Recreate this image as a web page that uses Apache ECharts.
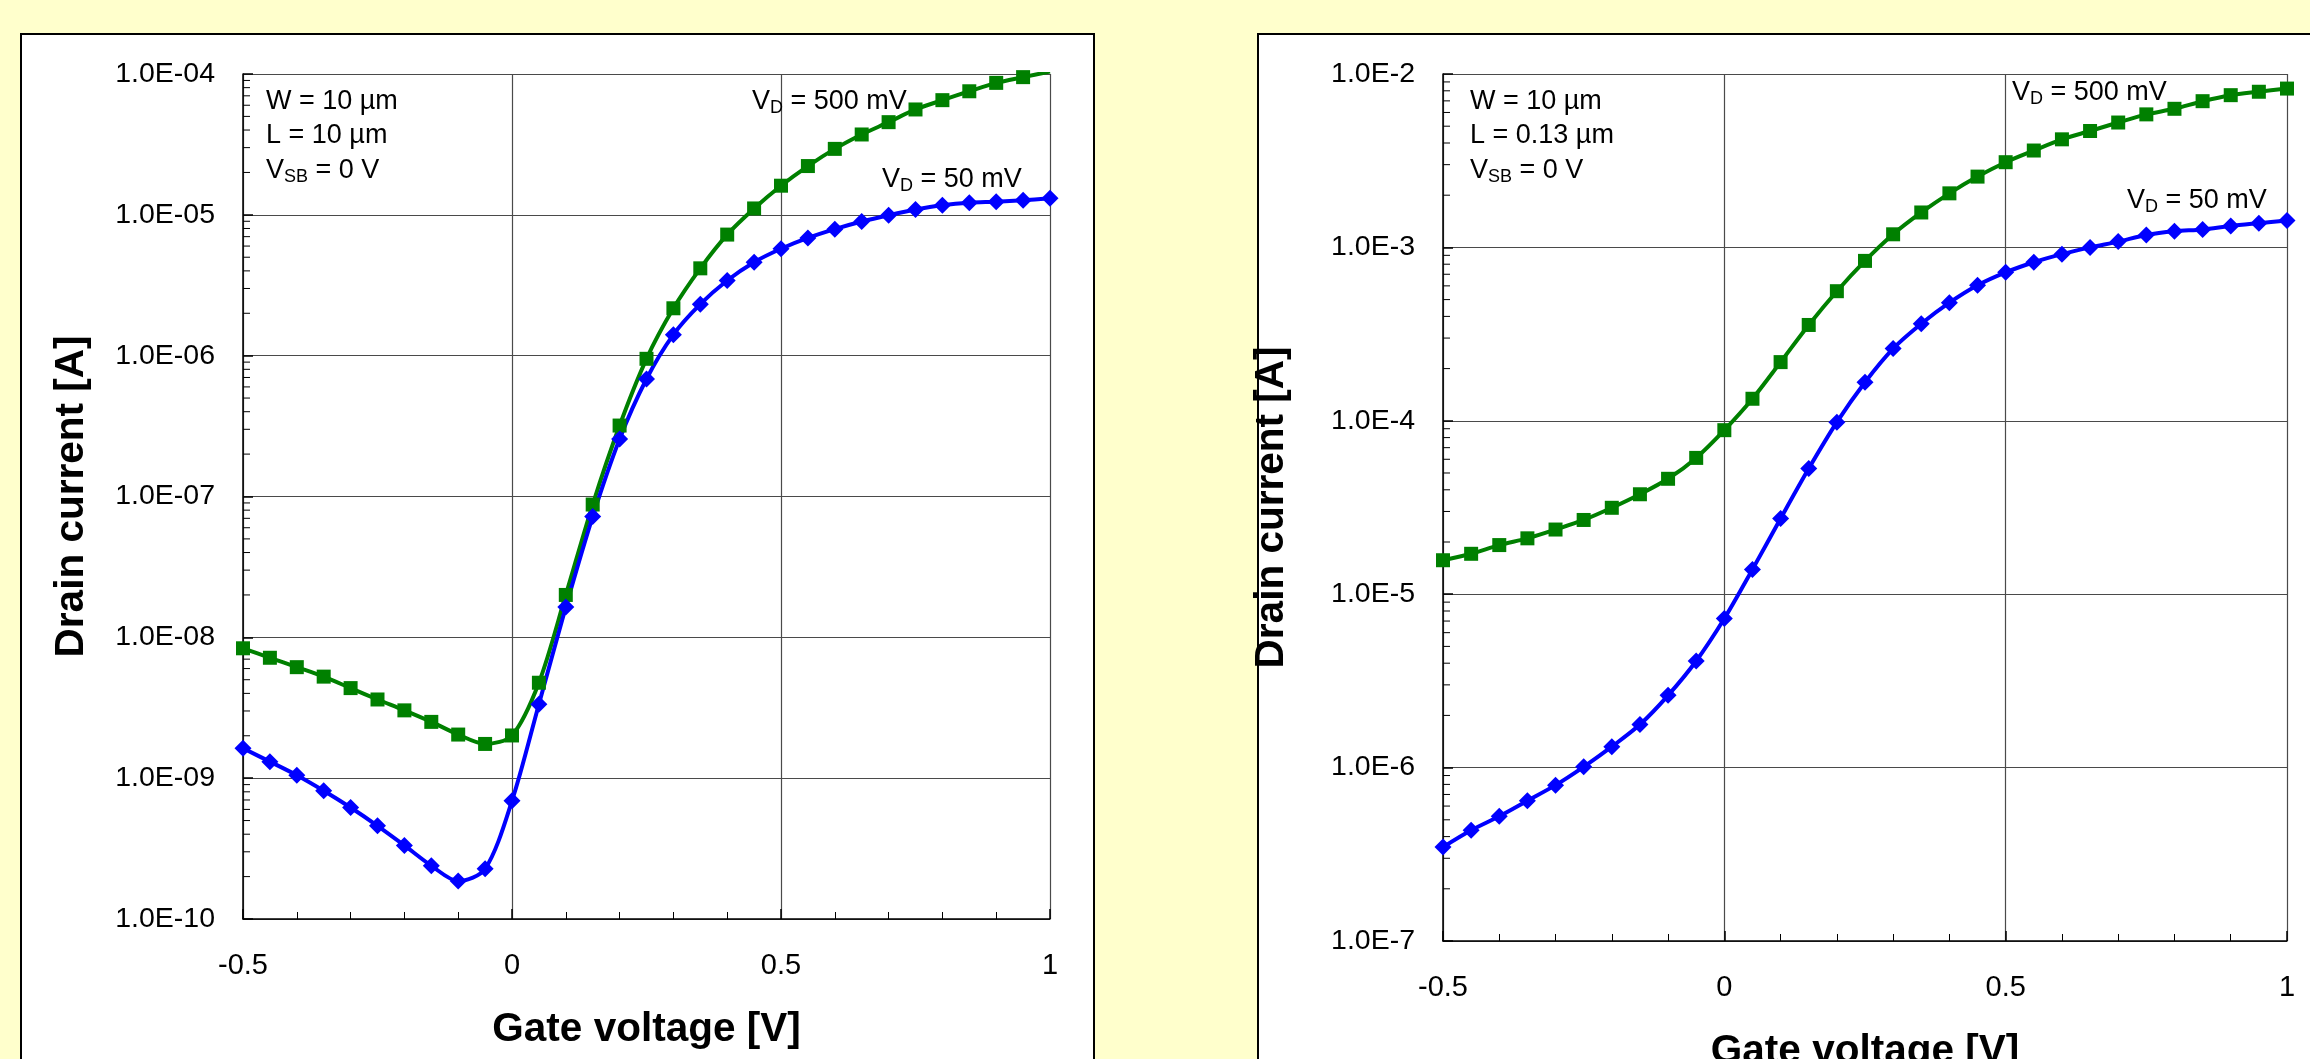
<!DOCTYPE html>
<html>
<head>
<meta charset="utf-8">
<script src="https://cdn.jsdelivr.net/npm/echarts@6/dist/echarts.min.js"></script>
<style>
  html, body { margin: 0; padding: 0; background: #FFFFCC; }
  #chart { width: 2310px; height: 1059px; }
</style>
</head>
<body>
<div id="chart"></div>
<script>
// gate voltage sweep, same for both devices
const gateVoltage = [-0.5, -0.45, -0.4, -0.35, -0.3, -0.25, -0.2, -0.15, -0.1, -0.05, 0,
  0.05, 0.1, 0.15, 0.2, 0.25, 0.3, 0.35, 0.4, 0.45, 0.5, 0.55, 0.6, 0.65, 0.7, 0.75, 0.8,
  0.85, 0.9, 0.95, 1];

// left chart: W = 10um, L = 10um
const longVd500 = [8.36e-9, 7.16e-9, 6.14e-9, 5.26e-9, 4.36e-9, 3.62e-9, 3.03e-9, 2.51e-9, 2.04e-9,
  1.75e-9, 2.01e-9, 4.76e-9, 2.0e-8, 8.77e-8, 3.19e-7, 9.5e-7, 2.17e-6, 4.17e-6, 7.24e-6, 1.11e-5,
  1.61e-5, 2.22e-5, 2.94e-5, 3.72e-5, 4.55e-5, 5.6e-5, 6.52e-5, 7.54e-5, 8.65e-5, 9.5e-5, 1.04e-4];
const longVd50 = [1.63e-9, 1.31e-9, 1.05e-9, 8.15e-10, 6.19e-10, 4.59e-10, 3.33e-10, 2.39e-10, 1.86e-10,
  2.27e-10, 6.9e-10, 3.35e-9, 1.64e-8, 7.2e-8, 2.56e-7, 6.83e-7, 1.41e-6, 2.32e-6, 3.42e-6, 4.61e-6,
  5.74e-6, 6.85e-6, 7.91e-6, 8.96e-6, 9.93e-6, 1.09e-5, 1.17e-5, 1.22e-5, 1.24e-5, 1.27e-5, 1.31e-5];

// right chart: W = 10um, L = 0.13um
const shortVd500 = [1.57e-5, 1.71e-5, 1.92e-5, 2.10e-5, 2.36e-5, 2.68e-5, 3.15e-5, 3.77e-5, 4.63e-5,
  6.11e-5, 8.83e-5, 1.34e-4, 2.18e-4, 3.57e-4, 5.59e-4, 8.36e-4, 1.19e-3, 1.59e-3, 2.05e-3, 2.56e-3,
  3.10e-3, 3.62e-3, 4.20e-3, 4.69e-3, 5.25e-3, 5.85e-3, 6.3e-3, 6.97e-3, 7.55e-3, 7.9e-3, 8.24e-3];
const shortVd50 = [3.48e-7, 4.35e-7, 5.24e-7, 6.44e-7, 7.92e-7, 1.01e-6, 1.32e-6, 1.77e-6, 2.61e-6,
  4.12e-6, 7.24e-6, 1.39e-5, 2.73e-5, 5.30e-5, 9.82e-5, 1.67e-4, 2.61e-4, 3.63e-4, 4.80e-4, 6.05e-4,
  7.18e-4, 8.21e-4, 9.14e-4, 1.0e-3, 1.08e-3, 1.18e-3, 1.24e-3, 1.27e-3, 1.33e-3, 1.38e-3, 1.43e-3];

// y tick labels
const longYTicks = [1e-10, 1e-9, 1e-8, 1e-7, 1e-6, 1e-5, 1e-4];
const longYLabels = ['1.0E-10', '1.0E-09', '1.0E-08', '1.0E-07', '1.0E-06', '1.0E-05', '1.0E-04'];
const shortYTicks = [1e-7, 1e-6, 1e-5, 1e-4, 1e-3, 1e-2];
const shortYLabels = ['1.0E-7', '1.0E-6', '1.0E-5', '1.0E-4', '1.0E-3', '1.0E-2'];
// minor log ticks inside each decade
const minorSteps = [2, 3, 4, 5, 6, 7, 8, 9];

const FONT = '"Liberation Sans", Arial, sans-serif';
const GRID_COLOR = '#4a4a4a';

function pick(ticks, labels) {
  return function (v) {
    const i = ticks.findIndex(t => Math.abs(Math.log10(t / v)) < 1e-6);
    return i < 0 ? '' : labels[i];
  };
}

function minorData(ticks) {
  const out = [];
  ticks.slice(0, -1).forEach(d => minorSteps.forEach(m => out.push([-0.5, d * m])));
  return out;
}

function xAxisFor(gridIndex) {
  return {
    type: 'value', gridIndex: gridIndex, min: -0.5, max: 1, interval: 0.5,
    name: 'Gate voltage [V]', nameLocation: 'middle', nameGap: 90,
    nameTextStyle: { fontFamily: FONT, fontSize: 40.5, fontWeight: 'bold', color: '#000' },
    axisLine: { onZero: false, lineStyle: { color: '#000', width: 1.5 } },
    axisTick: { inside: true, length: 10, lineStyle: { color: '#000', width: 1.5 } },
    minorTick: { show: true, splitNumber: 5, length: 7, lineStyle: { color: '#000', width: 1 } },
    axisLabel: { fontFamily: FONT, fontSize: 29, color: '#000', margin: 32 },
    splitLine: { show: true, lineStyle: { color: GRID_COLOR, width: 1.2 } }
  };
}

function yAxisFor(gridIndex, ticks, labels) {
  return {
    type: 'log', logBase: 10, gridIndex: gridIndex,
    min: ticks[0], max: ticks[ticks.length - 1],
    name: 'Drain current [A]', nameLocation: 'middle', nameGap: 151,
    nameTextStyle: { fontFamily: FONT, fontSize: 40.5, fontWeight: 'bold', color: '#000' },
    axisLine: { show: true, onZero: false, lineStyle: { color: '#000', width: 1.5 } },
    axisTick: { show: true, inside: true, length: 10, lineStyle: { color: '#000', width: 1.5 } },
    axisLabel: { fontFamily: FONT, fontSize: 28.5, color: '#000', margin: 28, formatter: pick(ticks, labels) },
    splitLine: { show: true, lineStyle: { color: GRID_COLOR, width: 1.2 } }
  };
}

function pairs(ys) {
  return gateVoltage.map((x, i) => [x, ys[i]]);
}

function curve(name, ys, idx, color, symbol, size) {
  return {
    name: name, type: 'line', xAxisIndex: idx, yAxisIndex: idx,
    data: pairs(ys), smooth: 0.3, symbol: symbol, symbolSize: size,
    lineStyle: { color: color, width: 4 },
    itemStyle: { color: color },
    z: 3, animation: false
  };
}

function minorTicks(idx, ticks) {
  return {
    type: 'custom', xAxisIndex: idx, yAxisIndex: idx, silent: true, clip: false,
    data: minorData(ticks),
    renderItem: function (params, api) {
      const p = api.coord([api.value(0), api.value(1)]);
      return {
        type: 'line',
        shape: { x1: p[0], y1: p[1], x2: p[0] + 7, y2: p[1] },
        style: { stroke: '#000', lineWidth: 1 }
      };
    },
    animation: false
  };
}

const subRich = {
  sub: { fontFamily: FONT, fontSize: 18, lineHeight: 15, verticalAlign: 'bottom', fill: '#000' }
};

function note(x, y, text) {
  return {
    type: 'text', x: x, y: y, z: 10,
    style: {
      text: text, fontFamily: FONT, fontSize: 27, lineHeight: 30,
      fill: '#000', verticalAlign: 'middle', rich: subRich
    }
  };
}

const chart = echarts.init(document.getElementById('chart'));

chart.setOption({
  backgroundColor: '#FFFFCC',
  animation: false,
  grid: [
    { left: 243, top: 74, width: 807, height: 845, outerBoundsMode: 'none', containLabel: false },
    { left: 1443, top: 74, width: 844, height: 867, outerBoundsMode: 'none', containLabel: false }
  ],
  xAxis: [xAxisFor(0), xAxisFor(1)],
  yAxis: [yAxisFor(0, longYTicks, longYLabels), yAxisFor(1, shortYTicks, shortYLabels)],
  series: [
    curve('VD = 500 mV', longVd500, 0, '#008000', 'rect', 14),
    curve('VD = 50 mV', longVd50, 0, '#0000FF', 'diamond', 17),
    curve('VD = 500 mV', shortVd500, 1, '#008000', 'rect', 14),
    curve('VD = 50 mV', shortVd50, 1, '#0000FF', 'diamond', 17),
    minorTicks(0, longYTicks),
    minorTicks(1, shortYTicks)
  ],
  graphic: [
    { type: 'rect', z: -10, shape: { x: 21, y: 34, width: 1073, height: 1100 },
      style: { fill: '#fff', stroke: '#000', lineWidth: 2 } },
    { type: 'rect', z: -10, shape: { x: 1258, y: 34, width: 1100, height: 1100 },
      style: { fill: '#fff', stroke: '#000', lineWidth: 2 } },
    // left device notes
    note(266, 102, 'W = 10 µm'),
    note(266, 136, 'L = 10 µm'),
    note(266, 171, 'V{sub|SB} = 0 V'),
    note(752, 102, 'V{sub|D} = 500 mV'),
    note(882, 180, 'V{sub|D} = 50 mV'),
    // right device notes
    note(1470, 102, 'W = 10 µm'),
    note(1470, 136, 'L = 0.13 µm'),
    note(1470, 171, 'V{sub|SB} = 0 V'),
    note(2012, 93, 'V{sub|D} = 500 mV'),
    note(2127, 201, 'V{sub|D} = 50 mV')
  ]
});
</script>
</body>
</html>
